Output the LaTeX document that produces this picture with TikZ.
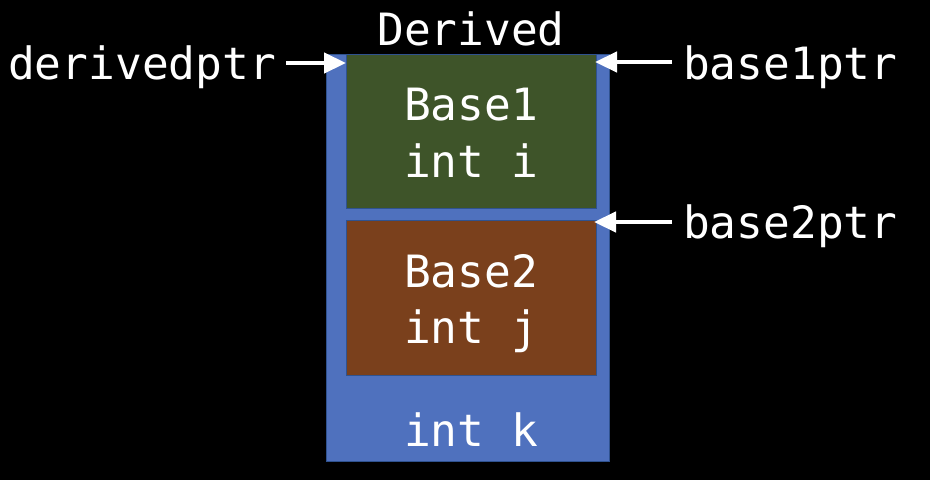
\documentclass[tikz,border=0pt]{standalone}
\usepackage{fontspec}
\setmonofont{DejaVu Sans Mono}
\usetikzlibrary{arrows.meta}
\definecolor{outerblue}{HTML}{4F71BE}
\definecolor{outerline}{HTML}{2F528F}
\definecolor{basegreen}{HTML}{3E5429}
\definecolor{basebrown}{HTML}{7A401C}
\tikzset{
  lbl/.style={text=white, font=\ttfamily\fontsize{44.5}{44.5}\selectfont, inner sep=0pt, anchor=base},
  ptr/.style={draw=white, line width=4.5pt, -{Triangle[length=22pt,width=20pt]}},
  part/.style={draw=outerline, line width=0.8pt}
}
\begin{document}
\begin{tikzpicture}[x=1pt,y=-1pt]
\fill[black] (0,0) rectangle (930,480);
\useasboundingbox (0,0) rectangle (930,480);
\draw[part, fill=outerblue] (326,54) rectangle (609,461);
\draw[part, fill=basegreen] (346,54) rectangle (596,208);
\draw[part, fill=basebrown] (346,220) rectangle (596,375);
\node[lbl] (derived) at (471,45) {Derived};
\node[lbl] (b1) at (471,120) {Base1};
\node[lbl] (ii) at (471,177) {int i};
\node[lbl] (b2) at (471,287) {Base2};
\node[lbl] (ij) at (471,343) {int j};
\node[lbl] (ik) at (471,446) {int k};
\node[lbl, anchor=base west] (dptr) at (8,79) {derivedptr};
\node[lbl, anchor=base west] (b1ptr) at (683,79) {base1ptr};
\node[lbl, anchor=base west] (b2ptr) at (683,238) {base2ptr};
\coordinate (dtip) at (346,63);
\coordinate (b1tip) at (595,62);
\coordinate (b2tip) at (594,222);
\draw[ptr] (dptr.east |- dtip) ++(10,0) coordinate (dtail) (dtail) -- (dtip);
\draw[ptr] (b1ptr.west |- b1tip) ++(-11,0) coordinate (b1tail) (b1tail) -- (b1tip);
\draw[ptr] (b2ptr.west |- b2tip) ++(-11,0) coordinate (b2tail) (b2tail) -- (b2tip);
\end{tikzpicture}
\end{document}
